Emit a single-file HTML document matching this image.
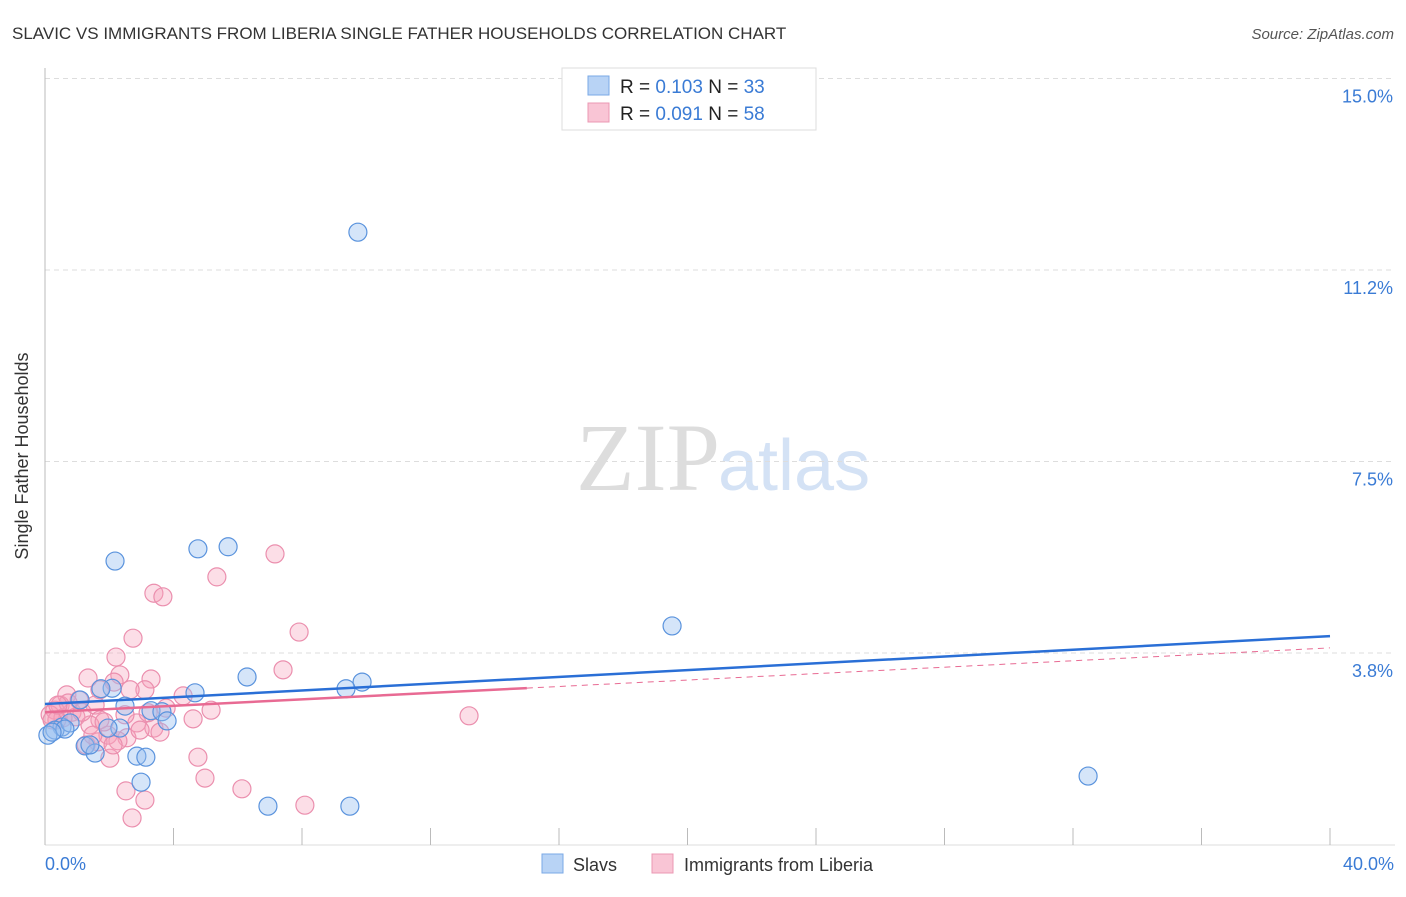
<!DOCTYPE html>
<html><head><meta charset="utf-8"><style>
body{margin:0;background:#fff;font-family:"Liberation Sans",sans-serif}
svg text{font-family:"Liberation Sans",sans-serif}
</style></head><body>
<svg id="chart" width="1406" height="892">
<text x="12" y="39" font-size="17" fill="#333">SLAVIC VS IMMIGRANTS FROM LIBERIA SINGLE FATHER HOUSEHOLDS CORRELATION CHART</text>
<text x="1394" y="39" font-size="15" fill="#555" font-style="italic" text-anchor="end">Source: ZipAtlas.com</text>
<text x="720" y="490" font-size="96" fill="#ddd" text-anchor="end" font-family="Liberation Serif" style="font-family:'Liberation Serif',serif">ZIP</text>
<text x="718" y="490" font-size="72" fill="#d4e2f5">atlas</text>
<g id="grid"></g>
<line x1="45" y1="68" x2="45" y2="845" stroke="#bbb"/>
<line x1="45" y1="845" x2="1395" y2="845" stroke="#ddd"/>
<g id="ticks"></g>
<text x="28" y="456" font-size="18" fill="#333" text-anchor="middle" transform="rotate(-90 28 456)">Single Father Households</text>
<text x="45" y="870" font-size="18" fill="#3a7bd5">0.0%</text>
<text x="1394" y="870" font-size="18" fill="#3a7bd5" text-anchor="end">40.0%</text>
<g id="points"></g>
<g id="trends"></g>
<g>
<rect x="562" y="68" width="254" height="62" fill="#fff" stroke="#ddd"/>
<rect x="588" y="76" width="21" height="19" fill="#b8d3f5" stroke="#7aa8e6"/>
<rect x="588" y="103" width="21" height="19" fill="#f9c5d5" stroke="#eb98b3"/>
<text x="620" y="93" font-size="19" fill="#222">R = <tspan fill="#3a7bd5">0.103</tspan>   N = <tspan fill="#3a7bd5">33</tspan></text>
<text x="620" y="120" font-size="19" fill="#222">R = <tspan fill="#3a7bd5">0.091</tspan>   N = <tspan fill="#3a7bd5">58</tspan></text>
</g>
<g>
<rect x="542" y="854" width="21" height="19" fill="#b8d3f5" stroke="#7aa8e6"/>
<text x="573" y="871" font-size="18" fill="#333">Slavs</text>
<rect x="652" y="854" width="21" height="19" fill="#f9c5d5" stroke="#eb98b3"/>
<text x="684" y="871" font-size="18" fill="#333">Immigrants from Liberia</text>
</g>
</svg>
<script>
const yTicks=[3.75,7.5,11.25,15];
const yTickLabels=["3.8%","7.5%","11.2%","15.0%"];
const xTicks=[0,4,8,12,16,20,24,28,32,36,40];
const slavsX=[9.74,2.18,4.76,5.70,19.52,32.47,6.29,9.87,9.37,4.67,2.09,1.74,2.49,3.30,3.64,3.80,2.33,1.09,0.53,0.31,0.09,0.78,1.25,1.56,2.86,3.14,2.99,6.94,9.49,0.62,1.96,0.22,1.40];
const slavsY=[11.99,5.55,5.79,5.83,4.28,1.34,3.28,3.18,3.05,2.97,3.06,3.05,2.71,2.62,2.60,2.42,2.28,2.83,2.30,2.24,2.14,2.38,1.93,1.79,1.73,1.71,1.22,0.75,0.75,2.26,2.28,2.20,1.95];
const libX=[7.16,5.35,3.39,3.67,7.91,2.74,2.21,7.41,3.30,1.34,2.33,2.15,3.11,4.30,0.68,5.17,13.20,4.61,3.77,2.86,3.39,1.56,1.06,0.47,0.31,0.16,0.84,1.71,1.96,2.55,2.27,1.65,1.28,2.02,4.76,4.98,2.52,3.11,6.13,8.09,2.71,0.96,0.56,0.37,1.40,1.84,2.49,2.96,3.58,0.72,0.22,1.15,1.49,2.12,3.21,0.40,2.65,1.71];
const libY=[5.69,5.24,4.92,4.85,4.16,4.04,3.67,3.42,3.24,3.26,3.32,3.18,3.03,2.91,2.93,2.63,2.52,2.46,2.67,2.38,2.28,2.73,2.83,2.73,2.63,2.54,2.59,2.44,2.14,2.09,2.03,2.01,1.95,1.69,1.71,1.30,1.05,0.87,1.09,0.77,0.52,2.50,2.48,2.44,2.34,2.40,2.54,2.24,2.20,2.77,2.44,2.59,2.14,1.95,2.58,2.73,3.03,3.03];
const slavsTrend=[2.75,4.08];
const libTrend=[2.59,3.85];
const libSolidEnd=15;
const NS="http://www.w3.org/2000/svg";
const X=v=>45+v*1285/40;
const Y=v=>844.5-v*51.07;
function mk(t,a,p){const e=document.createElementNS(NS,t);for(const k in a)e.setAttribute(k,a[k]);p.appendChild(e);return e;}
const grid=document.getElementById('grid');
yTicks.forEach((t,i)=>{
 const l=mk('line',{x1:45,x2:1395,y1:Y(t),y2:Y(t),stroke:'#ddd','stroke-dasharray':'5,4'},grid);
 
 
 const tx=mk('text',{x:1393,y:Y(t)+24,'font-size':18,fill:'#3a7bd5','text-anchor':'end'},grid);
 tx.textContent=yTickLabels[i];
 
 
});
const ticks=document.getElementById('ticks');
xTicks.forEach(t=>{
 const l=mk('line',{x1:X(t),x2:X(t),y1:828,y2:845,stroke:'#bbb'},ticks);
 
 
});
const pts=document.getElementById('points');
libX.forEach((x,i)=>{
 const c=mk('circle',{cx:X(x),cy:Y(libY[i]),r:9,fill:'rgba(245,160,185,0.35)',stroke:'#eb8fae','stroke-width':1.2},pts);
 
 
});
slavsX.forEach((x,i)=>{
 const c=mk('circle',{cx:X(x),cy:Y(slavsY[i]),r:9,fill:'rgba(150,190,240,0.4)',stroke:'#5a93dd','stroke-width':1.2},pts);
 
 
});
const tr=document.getElementById('trends');
const lt=v=>libTrend[0]+(libTrend[1]-libTrend[0])*v/40;
let a=mk('line',{x1:X(0),y1:Y(slavsTrend[0]),x2:X(40),y2:Y(slavsTrend[1]),stroke:'#2a6fd6','stroke-width':2.5},tr);


a=mk('line',{x1:X(0),y1:Y(lt(0)),x2:X(libSolidEnd),y2:Y(lt(libSolidEnd)),stroke:'#e86a93','stroke-width':2.5},tr);


a=mk('line',{x1:X(libSolidEnd),y1:Y(lt(libSolidEnd)),x2:X(40),y2:Y(lt(40)),stroke:'#e86a93','stroke-width':1,'stroke-dasharray':'6,5'},tr);


</script>
</body></html>
